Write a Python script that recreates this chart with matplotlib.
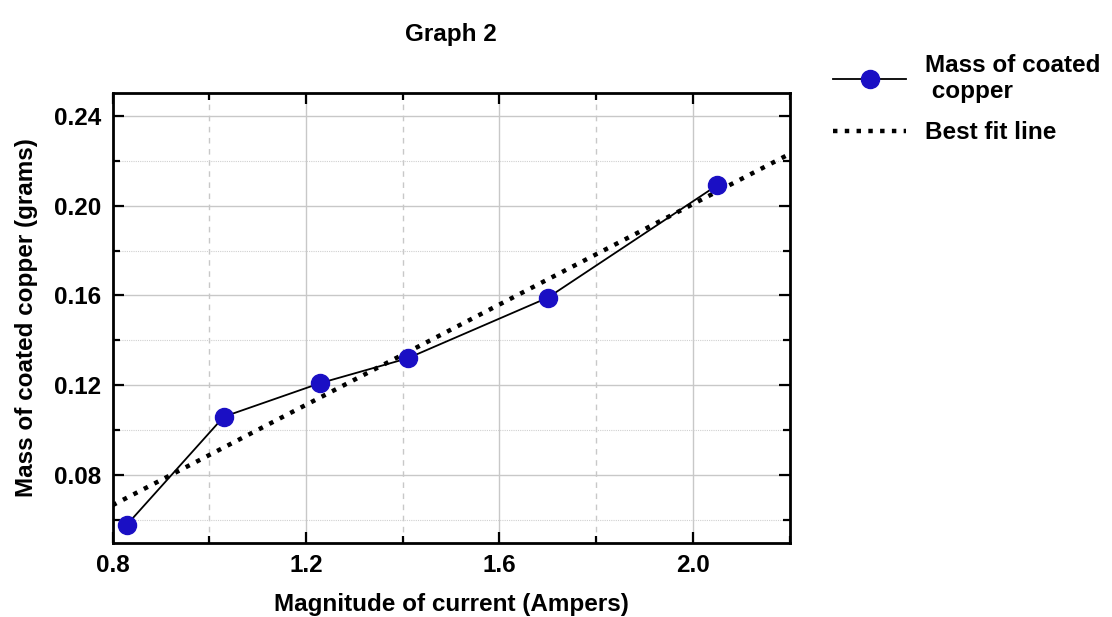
import numpy as np
import matplotlib
matplotlib.use("Agg")
import matplotlib.pyplot as plt
from matplotlib.ticker import MultipleLocator

# data
current = [0.83, 1.03, 1.23, 1.41, 1.70, 2.05]
mass = [0.058, 0.106, 0.121, 0.132, 0.159, 0.209]
fit_x = [0.8, 2.2]

plt.rcParams['font.family'] = ['Liberation Sans', 'DejaVu Sans']
plt.rcParams['font.weight'] = 'bold'
plt.rcParams['axes.labelweight'] = 'bold'
plt.rcParams['axes.titleweight'] = 'bold'
fs = 17.5

fig = plt.figure(figsize=(11.12, 6.17), dpi=100)
ax = fig.add_axes([0.1012, 0.1207, 0.6088, 0.7281])

# least squares fit through the measured points
slope, icept = np.polyfit(current, mass, 1)
fx = np.array(fit_x)

ax.plot(current, mass, '-o', color='black', lw=1.3, markersize=13,
        markerfacecolor='#1a0fc4', markeredgecolor='#1a0fc4',
        label='Mass of coated\n copper', zorder=3)
ax.plot(fx, slope * fx + icept, ':', color='black', lw=3.2,
        label='Best fit line', zorder=2)

ax.set_xlim(0.8, 2.2)
ax.set_ylim(0.05, 0.25)
ax.xaxis.set_major_locator(MultipleLocator(0.4))
ax.xaxis.set_minor_locator(MultipleLocator(0.2))
ax.yaxis.set_major_locator(MultipleLocator(0.04))
ax.yaxis.set_minor_locator(MultipleLocator(0.02))
ax.xaxis.set_major_formatter(plt.FuncFormatter(lambda v, p: '%.1f' % v))
ax.yaxis.set_major_formatter(plt.FuncFormatter(lambda v, p: '%.2f' % v))

ax.grid(which='major', color='#c8c8c8', lw=1.0, ls='-')
ax.grid(which='minor', axis='x', color='#c8c8c8', lw=1.0, ls=(0, (4, 4)))
ax.grid(which='minor', axis='y', color='#d0d0d0', lw=0.8, ls=(0, (1, 1)))
ax.set_axisbelow(True)

ax.tick_params(which='both', direction='in', top=True, right=True,
               labelsize=fs, width=1.6)
ax.tick_params(which='major', length=8, pad=8)
ax.tick_params(which='minor', length=5)
for s in ax.spines.values():
    s.set_linewidth(2)

ax.set_xlabel('Magnitude of current (Ampers)', fontsize=fs, labelpad=12)
ax.set_ylabel('Mass of coated copper (grams)', fontsize=fs, labelpad=12)
ax.set_title('Graph 2', fontsize=fs, pad=38)

ax.legend(loc='upper left', bbox_to_anchor=(1.05, 1.11), frameon=False,
          fontsize=fs, handlelength=3, labelspacing=0.75, borderaxespad=0,
          handletextpad=0.8)

fig.savefig('out.png', dpi=100)
